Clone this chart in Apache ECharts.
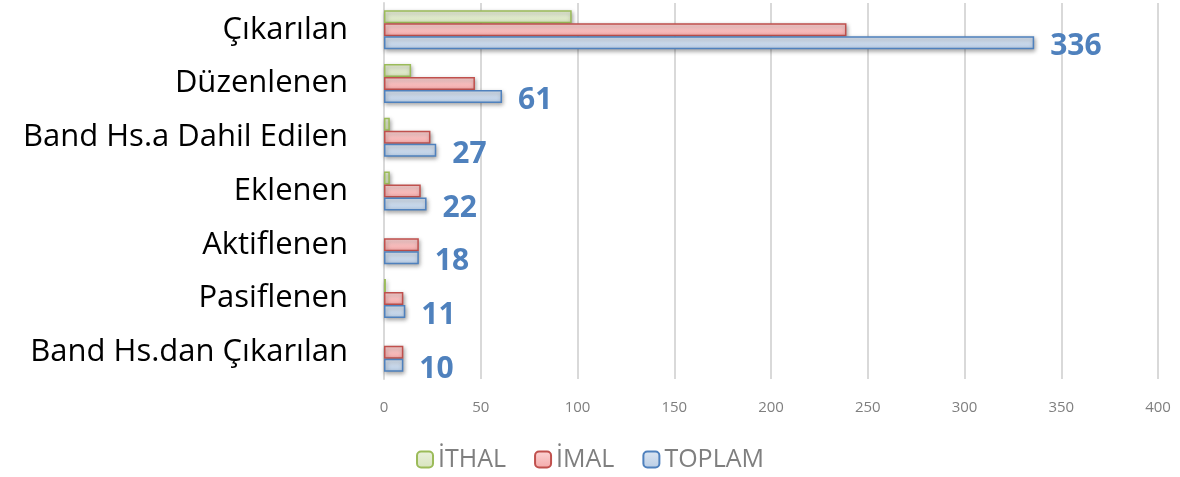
<!DOCTYPE html>
<html lang="tr">

<head>
    <meta charset="UTF-8">
    <title>Band hareketleri</title>
    <script src="https://cdn.jsdelivr.net/npm/echarts@6/dist/echarts.min.js"></script>
    <style>
        body,
        html {
            padding: 0;
            margin: 0;
            background: #fff;
        }

        #chart-panel {
            height: 477px;
            width: 1180px;
        }
    </style>
</head>

<body>
    <div id="chart-panel"></div>
    <script>
        // veriler
        var kategoriler = ['Çıkarılan', 'Düzenlenen', 'Band Hs.a Dahil Edilen', 'Eklenen', 'Aktiflenen', 'Pasiflenen', 'Band Hs.dan Çıkarılan'];
        var ithal = [97, 14, 3, 3, 0, 1, 0];
        var imal = [239, 47, 24, 19, 18, 10, 10];
        var toplam = [336, 61, 27, 22, 18, 11, 10];

        function grad(c1, c2) {
            return new echarts.graphic.LinearGradient(0, 0, 0, 1, [
                { offset: 0, color: c1 },
                { offset: 1, color: c2 }
            ]);
        }

        function seri(ad, veri, fill1, fill2, kenar, etiket) {
            return {
                name: ad,
                type: 'bar',
                // 0 olan değerler çizilmiyor
                data: veri.map(function (v) { return v === 0 ? null : v; }),
                barWidth: 13,
                barGap: '0%',
                itemStyle: {
                    color: grad(fill1, fill2),
                    borderColor: kenar,
                    borderWidth: 1.5,
                    shadowColor: 'rgba(0,0,0,0.35)',
                    shadowBlur: 4,
                    shadowOffsetX: 1,
                    shadowOffsetY: 2
                },
                label: etiket ? {
                    show: true,
                    position: 'right',
                    distance: 16,
                    offset: [0, 4],
                    color: '#4f81bd',
                    fontSize: 30,
                    fontWeight: 'bold',
                    fontFamily: 'Open Sans'
                } : { show: false }
            };
        }

        var option = {
            backgroundColor: '#fff',
            animation: false,
            grid: {
                left: 384,
                right: 22,
                top: 3,
                bottom: 98
            },
            legend: {
                bottom: 0,
                left: 'center',
                itemWidth: 16,
                itemHeight: 16,
                itemGap: 28,
                textStyle: { color: '#7f7f7f', fontSize: 25, fontFamily: 'Open Sans' },
                data: ['İTHAL', 'İMAL', 'TOPLAM']
            },
            xAxis: {
                type: 'value',
                min: 0,
                max: 400,
                interval: 50,
                axisLine: { show: false },
                axisTick: { show: false },
                axisLabel: { color: '#7f7f7f', fontSize: 15, margin: 21, fontFamily: 'Open Sans' },
                splitLine: { lineStyle: { color: '#d9d9d9', width: 2 } }
            },
            yAxis: {
                type: 'category',
                inverse: true,
                data: kategoriler,
                axisLine: { lineStyle: { color: '#d9d9d9', width: 2 } },
                axisTick: { show: false },
                axisLabel: { color: '#000', fontSize: 31, margin: 36, fontFamily: 'Open Sans' }
            },
            series: [
                seri('İTHAL', ithal, '#ebf1de', '#d7e4bd', '#9bbb59', false),
                seri('İMAL', imal, '#fcd5d5', '#f4a9a9', '#c0504d', false),
                seri('TOPLAM', toplam, '#dce6f2', '#b9cde5', '#4f81bd', true)
            ]
        };

        var chartVM = echarts.init(document.getElementById('chart-panel'));
        chartVM.setOption(option);
    </script>
</body>

</html>
